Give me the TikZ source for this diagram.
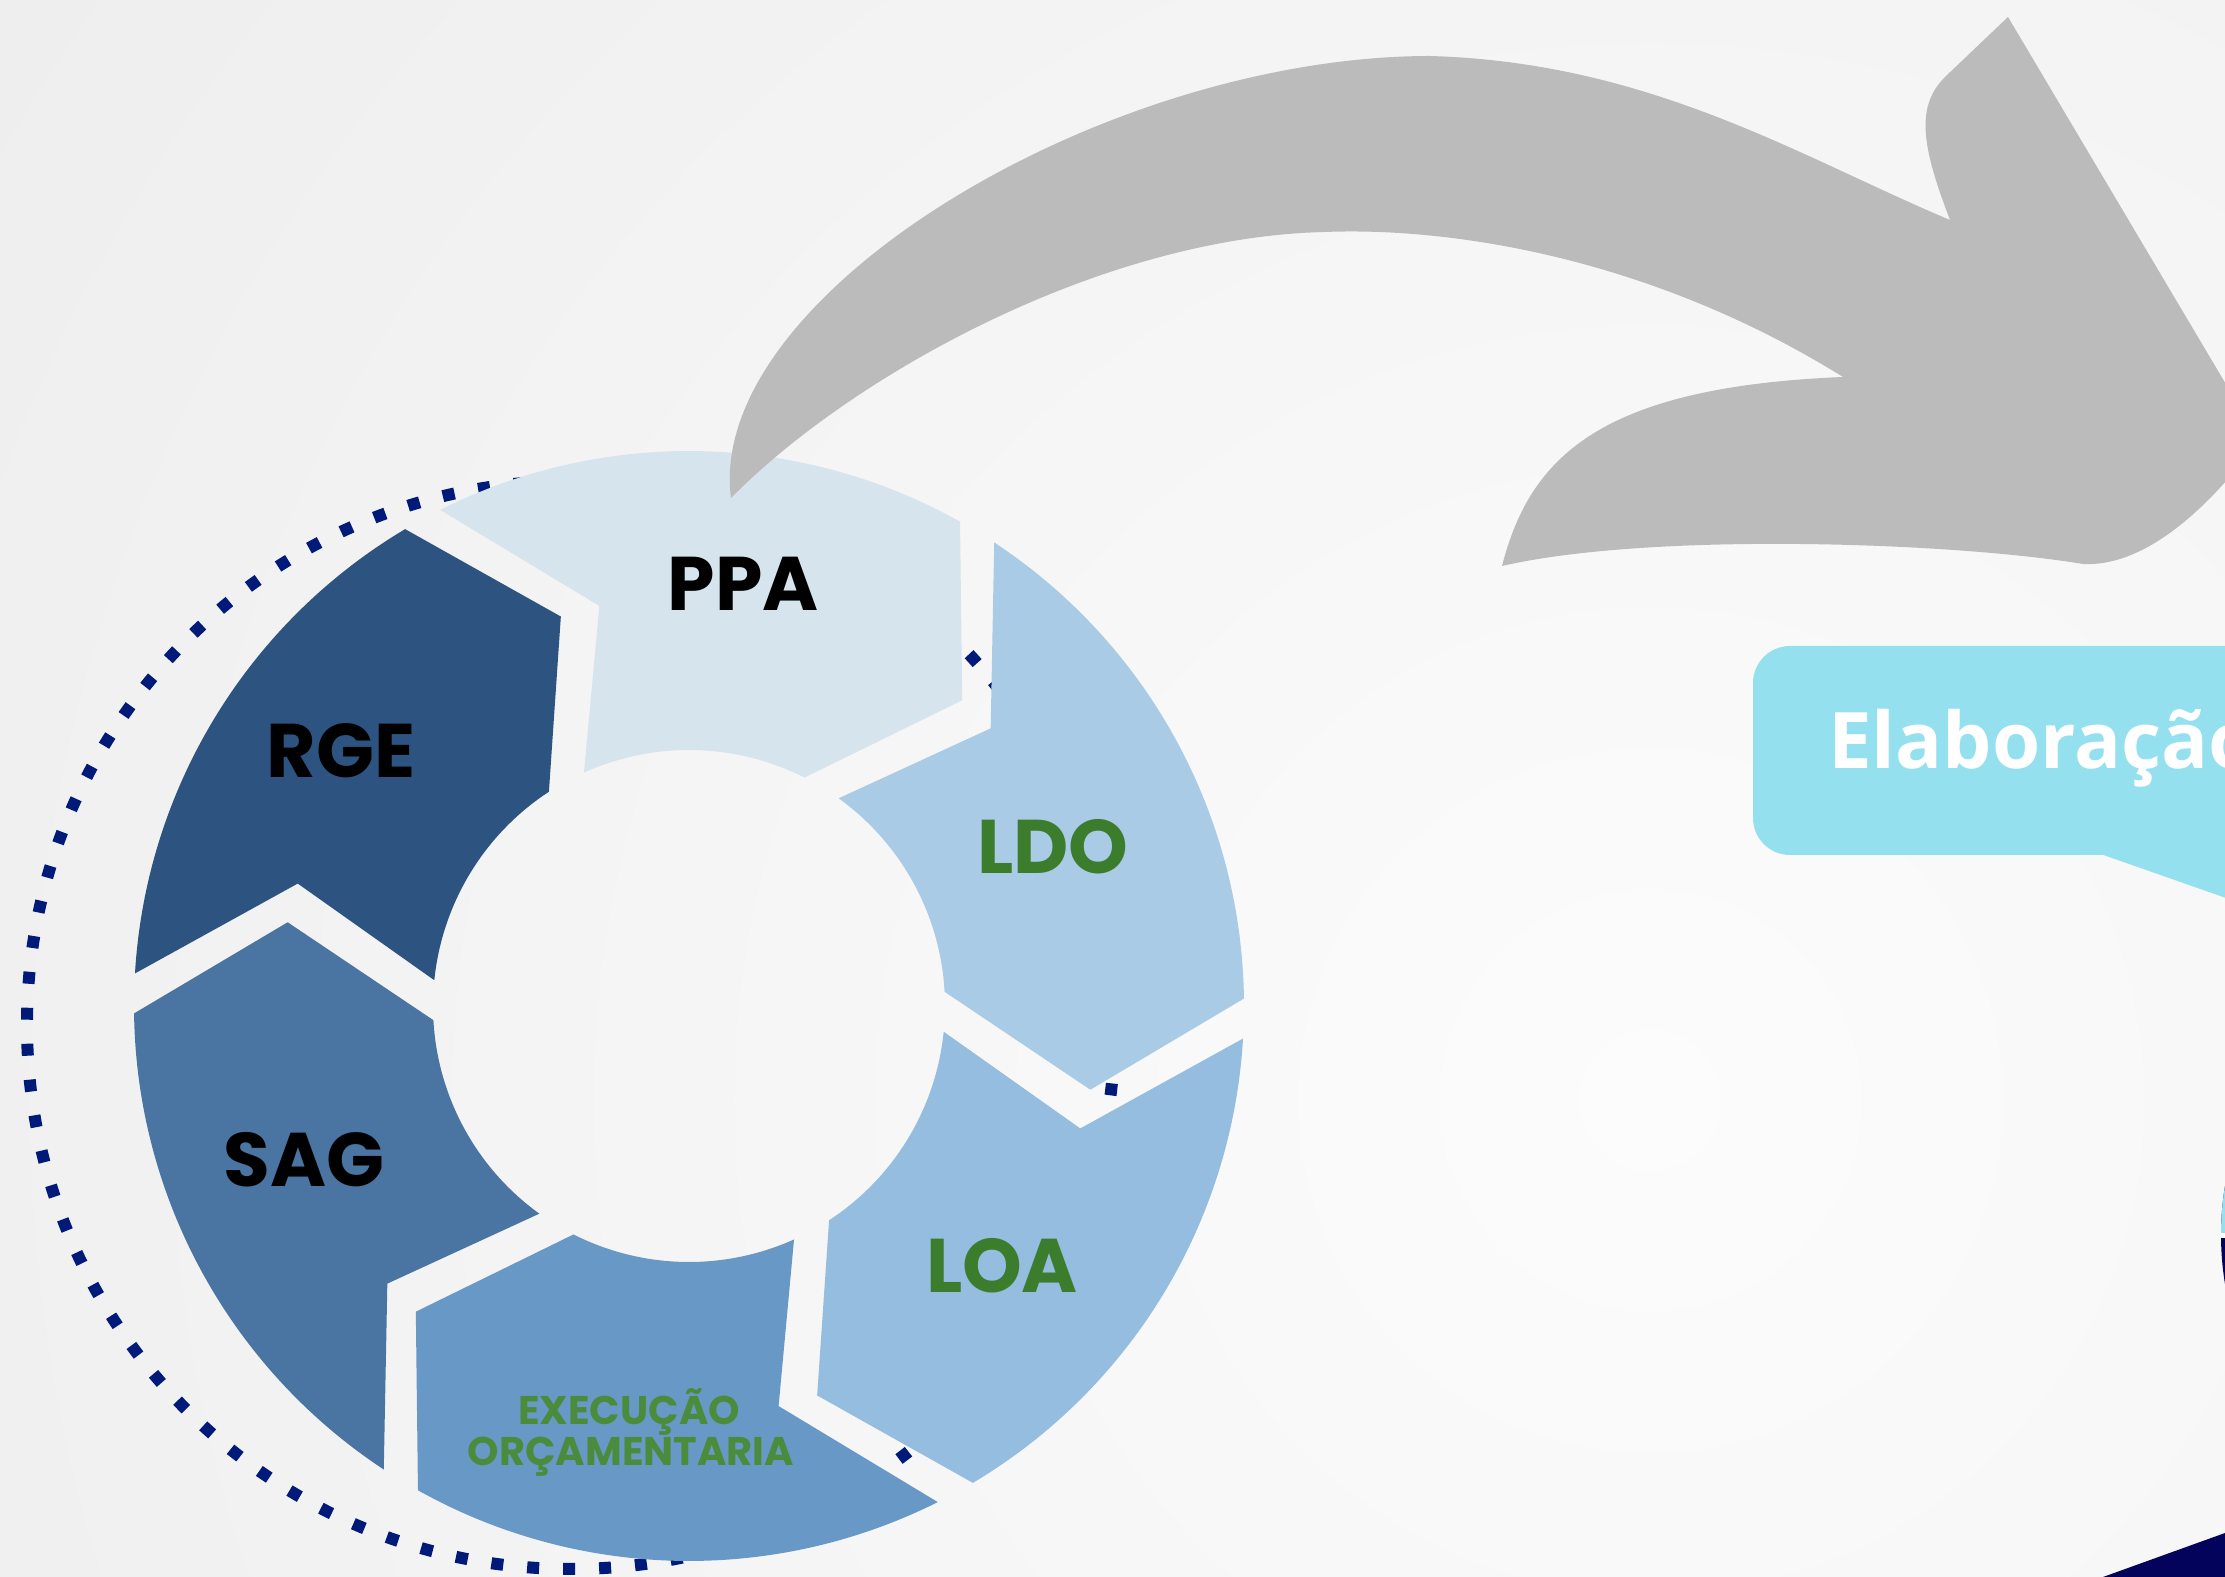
\documentclass[tikz,border=0pt]{standalone}
\usepackage{fontspec}
\newfontfamily\popfont{Poppins}
\newfontfamily\opfont{Open Sans}
\usetikzlibrary{calc}
\definecolor{bgin}{HTML}{FCFCFC}
\definecolor{bgout}{HTML}{E6E6E6}
\definecolor{cPPA}{HTML}{D6E4EE}
\definecolor{cLDO}{HTML}{AACBE6}
\definecolor{cLOA}{HTML}{94BDDF}
\definecolor{cEXE}{HTML}{6899C6}
\definecolor{cSAG}{HTML}{4A74A1}
\definecolor{cRGE}{HTML}{2D5380}
\definecolor{dotnavy}{HTML}{001A7A}
\definecolor{arrowgray}{HTML}{BBBBBB}
\definecolor{bubble}{HTML}{94E0EF}
\definecolor{deepnavy}{HTML}{03035C}
\definecolor{lblgreen}{HTML}{3C7D2D}
\definecolor{exgreen}{HTML}{4B8C3C}
\tikzset{
  biglbl/.style={font={\popfont\bfseries\fontsize{76}{80}\selectfont}, inner sep=0pt},
  smalllbl/.style={font={\popfont\bfseries\fontsize{40}{44}\selectfont}, inner sep=0pt, text=exgreen},
  dotring/.style={draw=dotnavy, line width=12pt, dash pattern=on 12pt off 24pt},
}
\begin{document}
\begin{tikzpicture}[x=1pt,y=1pt]
\useasboundingbox (0,0) rectangle (2225,1577);
% background
\begin{scope}
\clip (0,0) rectangle (2225,1577);
\shade[inner color=bgin, outer color=bgout] (1650,477) circle (3100);
\end{scope}
% dotted circle behind ring
\draw[dotring] (571,552) circle (544);
% ring segments
\begin{scope}[shift={(689,571)}]
\foreach \a/\c in {118.7/cPPA,58.7/cLDO,-1.3/cLOA,-61.3/cEXE,-121.3/cSAG,178.7/cRGE}{
  \pgfmathsetmacro\oA{\a-2.065}
  \pgfmathsetmacro\oB{\a-60+2.065}
  \pgfmathsetmacro\tB{\a-60-13.28+2.795}
  \pgfmathsetmacro\iB{\a-60+4.476}
  \pgfmathsetmacro\iA{\a-4.476}
  \pgfmathsetmacro\tA{\a-13.28-2.795}
  \fill[\c] (\oA:555) arc[start angle=\oA,end angle=\oB,radius=555] -- (\tB:410) -- (\iB:256) arc[start angle=\iB,end angle=\iA,radius=256] -- (\tA:410) -- cycle;
}
\end{scope}
% labels
\node[biglbl] (ppa) at (743,993) {PPA};
\node[biglbl] (rge) at (341,826) {RGE};
\node[biglbl, text=lblgreen] (ldo) at (1053,730) {LDO};
\node[biglbl] (sag) at (304,417) {SAG};
\node[biglbl, text=lblgreen] (loa) at (1002,311) {LOA};
\node[smalllbl, anchor=base] (exe1) at (629,152) {EXECUÇÃO};
\node[smalllbl, anchor=base] (exe2) at (631,111) {ORÇAMENTARIA};
% gray curved arrow
\fill[arrowgray]
  (731,1079) .. controls (705,1280) and (1100,1520) .. (1429,1521)
  .. controls (1650,1515) and (1800,1420) .. (1950,1357)
  .. controls (1922,1430) and (1915,1470) .. (1945,1500)
  -- (2008,1560) -- (2262,1132) -- (2250,1125)
  .. controls (2200,1060) and (2140,1010) .. (2083,1013)
  .. controls (1950,1035) and (1650,1045) .. (1502,1011)
  .. controls (1530,1120) and (1600,1190) .. (1843,1200)
  .. controls (1650,1320) and (1450,1350) .. (1325,1345)
  .. controls (1100,1340) and (850,1200) .. (731,1079)
  -- cycle;
% speech bubble
\fill[bubble, rounded corners=37pt] (2320,722) -- (1753,722) -- (1753,931) -- (2320,931) -- cycle;
\fill[bubble] (2090,722.5) -- (2102,722.5) -- (2320,646) -- (2320,730) -- cycle;
\node[inner sep=0pt, anchor=base west, text=white, font={\opfont\bfseries\fontsize{78}{80}\selectfont}] (elab) at (1828,808) {Elaboração};
% right edge circle sliver
\begin{scope}
\clip (0,0) rectangle (2225,1577);
\fill[deepnavy] (2521,342) circle (300);
\fill[white] (2221,339) rectangle (2225,346);
\begin{scope}
\clip (2200,344) rectangle (2225,600);
\fill[bubble] (2521,342) circle (300);
\end{scope}
% bottom-right navy band
\fill[deepnavy] (2103,0) -- (2225,44) -- (2225,0) -- cycle;
\end{scope}
\end{tikzpicture}
\end{document}
